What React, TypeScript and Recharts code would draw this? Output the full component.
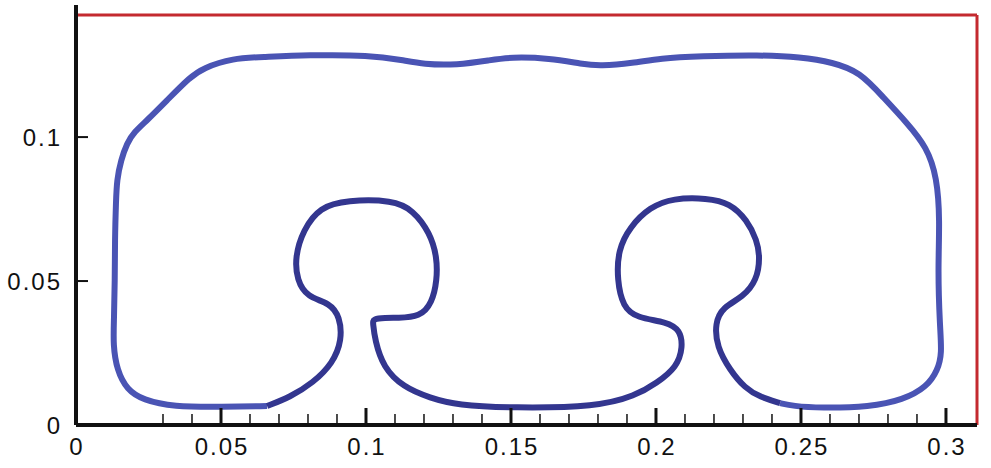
import React from 'react';
import { LineChart, Line, XAxis, YAxis, ReferenceLine } from 'recharts';

// outer contour: bottom-left, up the left wall, across the top, down the right wall
const outerX = [
  0.0659, 0.0507, 0.0334, 0.0231, 0.0176, 0.0141, 0.0128, 0.0131, 0.0134, 0.0134,
  0.0138, 0.0141, 0.0155, 0.0176, 0.0200, 0.0245, 0.0314, 0.0393, 0.0438, 0.0541, 0.0645,
  0.0797, 0.1014, 0.1128, 0.1197, 0.1314, 0.1428, 0.1497, 0.1634, 0.1748, 0.1807,
  0.1921, 0.2014, 0.2152, 0.2359, 0.2497, 0.2610, 0.2703, 0.2783, 0.2866, 0.2934,
  0.2969, 0.2979, 0.2972, 0.2979, 0.2986, 0.2972, 0.2934, 0.2852, 0.2738, 0.2566,
  0.2472, 0.2428,
];
const outerY = [
  0.0066, 0.0063, 0.0063, 0.0087, 0.0122, 0.0191, 0.0278, 0.0365, 0.0503, 0.0642,
  0.0781, 0.0851, 0.0920, 0.0979, 0.1017, 0.1058, 0.1128, 0.1208, 0.1240, 0.1274, 0.1278,
  0.1285, 0.1285, 0.1267, 0.1253, 0.1250, 0.1267, 0.1278, 0.1274, 0.1253, 0.1247,
  0.1257, 0.1274, 0.1281, 0.1285, 0.1278, 0.1260, 0.1226, 0.1139, 0.1049, 0.0965,
  0.0861, 0.0712, 0.0538, 0.0340, 0.0250, 0.0191, 0.0132, 0.0087, 0.0063, 0.0059,
  0.0066, 0.0076,
];

// inner part: right mushroom, middle bottom, left mushroom
const innerX = [
  0.2428, 0.2359, 0.2307, 0.2255, 0.2210, 0.2203, 0.2231, 0.2300, 0.2348, 0.2359,
  0.2348, 0.2314, 0.2255, 0.2176, 0.2059, 0.1979, 0.1910, 0.1869, 0.1866, 0.1886,
  0.1934, 0.2038, 0.2083, 0.2093, 0.2072, 0.2003, 0.1928, 0.1797, 0.1507, 0.1314,
  0.1221, 0.1128, 0.1059, 0.1031, 0.1024, 0.1024, 0.1066, 0.1107, 0.1186, 0.1228, 0.1245, 0.1245,
  0.1221, 0.1162, 0.1093, 0.0934, 0.0841, 0.0783, 0.0755, 0.0762, 0.0797, 0.0876,
  0.0910, 0.0917, 0.0886, 0.0817, 0.0738, 0.0659,
];
const innerY = [
  0.0076, 0.0097, 0.0128, 0.0191, 0.0271, 0.0354, 0.0410, 0.0444, 0.0503, 0.0583,
  0.0642, 0.0712, 0.0771, 0.0788, 0.0788, 0.0757, 0.0688, 0.0608, 0.0503, 0.0410,
  0.0372, 0.0358, 0.0330, 0.0271, 0.0201, 0.0146, 0.0101, 0.0063, 0.0059, 0.0069,
  0.0094, 0.0132, 0.0201, 0.0295, 0.0354, 0.0368, 0.0372, 0.0372, 0.0375, 0.0424, 0.0503, 0.0583,
  0.0667, 0.0747, 0.0781, 0.0781, 0.0757, 0.0677, 0.0583, 0.0503, 0.0444, 0.0424,
  0.0375, 0.0295, 0.0215, 0.0146, 0.0097, 0.0066,
];

const xMajor = [0, 0.05, 0.1, 0.15, 0.2, 0.25, 0.3];
const xMinor = [
  0.03, 0.04, 0.06, 0.07, 0.08, 0.09, 0.11, 0.12, 0.13, 0.14, 0.16, 0.17, 0.18, 0.19,
  0.21, 0.22, 0.23, 0.24, 0.26, 0.27, 0.28, 0.29,
];
const yMajor = [0, 0.05, 0.1];
const xMax = 0.3107;
const yMax = 0.1424;

const outer = outerX.map((x, i) => ({ x, y: outerY[i] }));
const inner = innerX.map((x, i) => ({ x, y: innerY[i] }));
const xTicks = [...xMajor, ...xMinor].sort((a, b) => a - b);

const labelStyle = { fontFamily: '"Liberation Sans", Arial, sans-serif', fontSize: 24, letterSpacing: 2 };

function XTick(props: any) {
  const { x, y, payload } = props;
  const major = xMajor.includes(payload.value);
  return (
    <g>
      <line x1={x} x2={x} y1={y} y2={y - (major ? 17 : 11)} stroke="#111" strokeWidth={major ? 3 : 1.5} />
      {major && (
        <text x={x + 1} y={y + 30} textAnchor="middle" fill="#111" style={labelStyle}>
          {payload.value}
        </text>
      )}
    </g>
  );
}

function YTick(props: any) {
  const { x, y, payload } = props;
  return (
    <g>
      <line x1={x} x2={x + 12} y1={y} y2={y} stroke="#111" strokeWidth={2} />
      <text x={x - 14} y={y + 9} textAnchor="end" fill="#111" style={labelStyle}>
        {payload.value}
      </text>
    </g>
  );
}

export default function App() {
  return (
    <div style={{ position: 'absolute', left: 0, top: 0, background: '#fff' }}>
      <LineChart width={991} height={468} margin={{ top: 15, right: 14, left: 0, bottom: 0 }}>
        <XAxis
          type="number"
          dataKey="x"
          domain={[0, xMax]}
          ticks={xTicks}
          interval={0}
          height={43}
          tickSize={0}
          tickMargin={0}
          tickLine={false}
          tick={<XTick />}
          axisLine={{ stroke: '#111', strokeWidth: 4 }}
          allowDataOverflow
        />
        <YAxis
          type="number"
          dataKey="y"
          domain={[0, yMax]}
          ticks={yMajor}
          width={76}
          tickSize={0}
          tickMargin={0}
          tickLine={false}
          tick={<YTick />}
          axisLine={false}
          allowDataOverflow
        />
        <ReferenceLine y={yMax} stroke="#c42a2f" strokeWidth={3} ifOverflow="visible" />
        <ReferenceLine x={xMax} stroke="#c42a2f" strokeWidth={3} ifOverflow="visible" />
        <ReferenceLine
          segment={[{ x: 0, y: 0 }, { x: 0, y: yMax + 0.0035 }]}
          stroke="#111"
          strokeWidth={4}
          ifOverflow="visible"
        />
        <Line
          data={outer}
          dataKey="y"
          type="basis"
          stroke="#4a54b4"
          strokeWidth={6}
          dot={false}
          activeDot={false}
          isAnimationActive={false}
        />
        <Line
          data={inner}
          dataKey="y"
          type="basis"
          stroke="#33368f"
          strokeWidth={6}
          dot={false}
          activeDot={false}
          isAnimationActive={false}
        />
      </LineChart>
    </div>
  );
}
